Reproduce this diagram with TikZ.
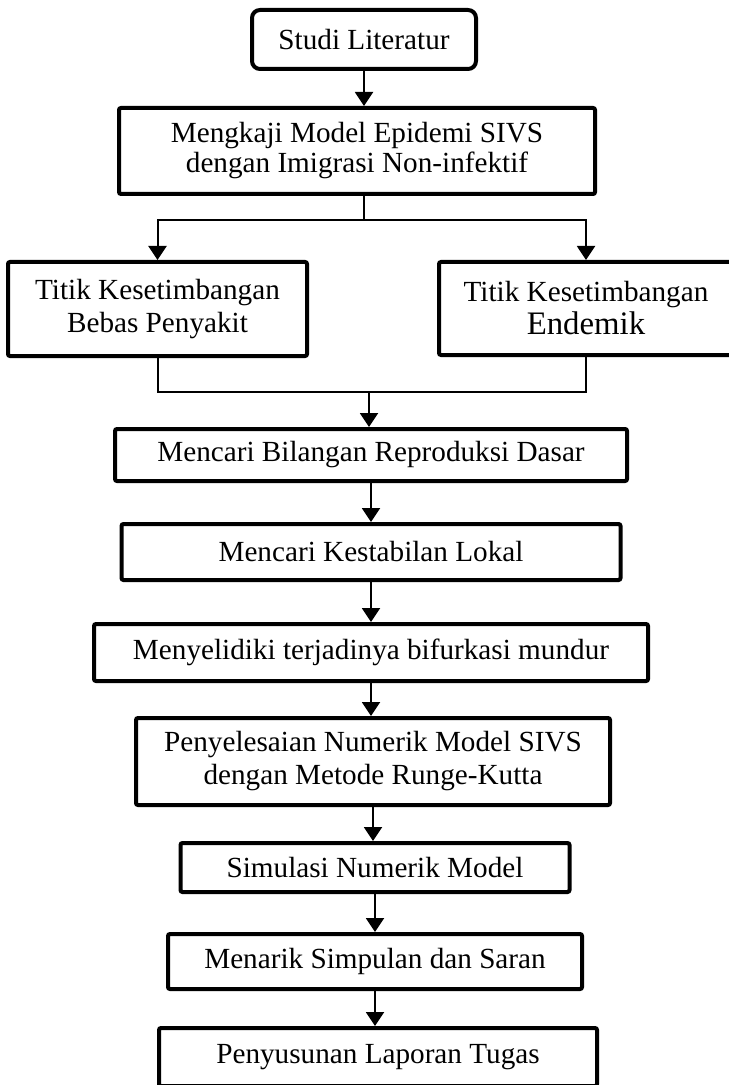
\documentclass[tikz,border=0pt]{standalone}
\usepackage{fontspec}
\setmainfont{Liberation Serif}
\usetikzlibrary{arrows.meta,positioning,calc}

\begin{document}
\begin{tikzpicture}[
    node distance=17.5pt,
    box/.style={rectangle, draw, line width=2pt, rounded corners=1pt, align=center, inner sep=2pt, font=\fontsize{14.6}{16.5}\selectfont},
    startbox/.style={box, rounded corners=4pt},
    arrow/.style={-{Triangle[length=7pt, width=9pt]}, line width=1pt},
    link/.style={line width=1pt},
]
\useasboundingbox (0,0) rectangle (364pt,-542.5pt);

\node[startbox, minimum width=112pt, minimum height=29.5pt] (studi) at (182pt,-19.75pt) {Studi Literatur};
\node[box, font=\fontsize{14.6}{15}\selectfont, minimum width=238pt, minimum height=43pt, below=of studi, xshift=-3.5pt] (mengkaji) {Mengkaji Model Epidemi SIVS\\dengan Imigrasi Non-infektif};

\node[box, minimum width=149.5pt, minimum height=47pt, below=32pt of mengkaji, xshift=-99.75pt] (bebas) {Titik Kesetimbangan\\Bebas Penyakit};
\node[box, minimum width=147pt, minimum height=46.5pt, below=32pt of mengkaji, xshift=114.5pt] (endemik) {Titik Kesetimbangan\\{\fontsize{16.4}{18}\selectfont Endemik}};

\node[box, minimum width=256pt, minimum height=26pt, below=115.5pt of mengkaji, xshift=7pt] (bilangan) {Mencari Bilangan Reproduksi Dasar};
\node[box, minimum width=249.5pt, minimum height=28pt, below=19.5pt of bilangan] (kestabilan) {Mencari Kestabilan Lokal};
\node[box, minimum width=277pt, minimum height=28.5pt, below=20pt of kestabilan] (bifurkasi) {Menyelidiki terjadinya bifurkasi mundur};
\node[box, minimum width=237pt, minimum height=43.5pt, below=16.5pt of bifurkasi, xshift=1pt] (numerik) {Penyelesaian Numerik Model SIVS\\dengan Metode Runge-Kutta};
\node[box, minimum width=194.5pt, minimum height=24.5pt, below=17pt of numerik, xshift=1pt] (simulasi) {Simulasi Numerik Model};
\node[box, minimum width=207pt, minimum height=27.5pt, below=19pt of simulasi] (simpulan) {Menarik Simpulan dan Saran};
\node[box, minimum width=219pt, minimum height=29pt, below=of simpulan, xshift=1.5pt] (laporan) {Penyusunan Laporan Tugas};

% cabang dan gabungan
\coordinate (split) at ($(studi |- mengkaji.south)+(0,-12pt)$);
\coordinate (merge) at ($(bilangan.north)+(-1pt,17.5pt)$);

\draw[arrow] (studi) -- (studi |- mengkaji.north);
\draw[link] (studi |- mengkaji.south) -- (split);
\draw[arrow] (split) -| (bebas);
\draw[arrow] (split) -| (endemik);
\draw[link] (bebas) |- (merge);
\draw[link] (endemik) |- (merge);
\draw[arrow] (merge) -- (merge |- bilangan.north);
\draw[arrow] (bilangan) -- (bilangan |- kestabilan.north);
\draw[arrow] (kestabilan) -- (kestabilan |- bifurkasi.north);
\draw[arrow] (bifurkasi) -- (bifurkasi |- numerik.north);
\draw[arrow] (numerik) -- (numerik |- simulasi.north);
\draw[arrow] (simulasi) -- (simulasi |- simpulan.north);
\draw[arrow] (simpulan) -- (simpulan |- laporan.north);
\end{tikzpicture}
\end{document}
